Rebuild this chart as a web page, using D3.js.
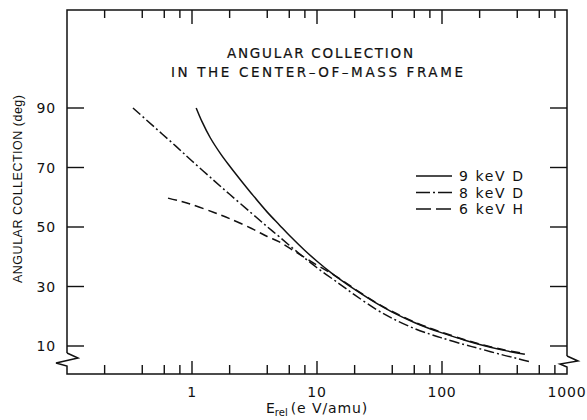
<!DOCTYPE html>
<html><head><meta charset="utf-8">
<script src="https://cdn.jsdelivr.net/npm/d3@7"></script>
<style>html,body{margin:0;padding:0;background:#fff;}svg{display:block;}</style>
</head><body><div id="chart"></div>
<script>
// ---- data ----
const energy9D = [1.08,1.2,1.4,1.7,2,2.5,3,4,5,6,8,10,13,16,20,30,40,60,80,100,150,200,300,460];
const angle9D  = [90,85.5,80,74.5,70.5,65.3,61.2,55.0,50.7,47.2,42.1,38.5,34.6,31.8,29.0,24.3,21.4,17.9,15.8,14.4,12.0,10.5,8.7,7.2];
const energy8D = [0.337,0.5,0.75,1,1.5,2,3,4,5,7,10,15,20,30,40,60,80,100,150,200,300,400,515];
const angle8D  = [90,83.6,77.0,72.2,65.6,61.0,54.6,50.1,46.7,41.5,36.3,31.0,27.2,22.2,19.3,15.9,14.0,12.7,10.5,9.1,7.1,5.8,4.6];
const energy6H = [0.643,0.8,1,1.5,2,3,4,5,7,10,13,16,20,30,40,60,80,100,150,200,300,460];
const angle6H  = [59.7,58.7,57.5,54.9,52.8,49.5,46.8,45.0,41.2,37.2,34.4,32.0,29.2,24.5,21.6,18.1,16.0,14.6,12.2,10.7,8.9,7.4];
const seriesNames = ["9 keV D","8 keV D","6 keV H"];
const xMajorTicks = [1,10,100];
const xMinorTicks = [0.2,0.4,0.6,0.8,2,4,6,8,20,40,60,80,200,400,600,800];
const xTickLabels = ["1","10","100","1000"];
const xLabelValues = [1,10,100,1000];
const yTicks = [10,30,50,70,90];
const titleLines = ["ANGULAR COLLECTION","IN THE CENTER\u2013OF\u2013MASS FRAME"];

const W = 587, H = 420;
const L = 67, R = 567, T = 10, B = 374;
const svg = d3.select("#chart").append("svg").attr("width",W).attr("height",H);
const x = d3.scaleLog().domain([0.1,1000]).range([L,R]);
const y = d3.scaleLinear().domain([10,90]).range([346,108]);
const ink = "#111";

// frame with axis breaks
const g = svg.append("g").attr("fill","none").attr("stroke",ink).attr("stroke-width",1.5);
g.append("path").attr("d",`M${L},353 L${L},${T} L${R},${T} L${R},356`);
g.append("path").attr("d",`M${L},353 L78,358 L56,363 L${L},366 L${L},${B} L${R},${B} L${R},367 L560,364 L578,361 L${R},356`);

// x ticks bottom and top
const tk = svg.append("g").attr("stroke",ink).attr("stroke-width",1.4);
tk.selectAll(".bmin").data(xMinorTicks).join("line")
  .attr("x1",d=>x(d)).attr("x2",d=>x(d)).attr("y1",B).attr("y2",B-9);
tk.selectAll(".bmaj").data(xMajorTicks).join("line")
  .attr("x1",d=>x(d)).attr("x2",d=>x(d)).attr("y1",B).attr("y2",B-13);
tk.selectAll(".tmin").data(xMinorTicks).join("line")
  .attr("x1",d=>x(d)).attr("x2",d=>x(d)).attr("y1",T).attr("y2",T+8);
tk.selectAll(".tmaj").data(xMajorTicks).join("line")
  .attr("x1",d=>x(d)).attr("x2",d=>x(d)).attr("y1",T).attr("y2",T+14);
// y ticks left and right
tk.selectAll(".yl").data(yTicks).join("line")
  .attr("x1",L).attr("x2",L+17).attr("y1",d=>y(d)).attr("y2",d=>y(d));
tk.selectAll(".yr").data(yTicks).join("line")
  .attr("x1",R).attr("x2",R-17).attr("y1",d=>y(d)).attr("y2",d=>y(d));

const numFont = "'DejaVu Sans', sans-serif";
// x tick labels
svg.append("g").selectAll("text").data(xLabelValues).join("text")
  .attr("x",d=>x(d)).attr("y",397).attr("text-anchor","middle")
  .attr("font-family",numFont).attr("font-size",14).attr("letter-spacing","0.8px").attr("fill",ink)
  .text((d,i)=>xTickLabels[i]);
// y tick labels
svg.append("g").selectAll("text").data(yTicks).join("text")
  .attr("x",56).attr("y",d=>y(d)+5).attr("text-anchor","end")
  .attr("font-family",numFont).attr("font-size",14).attr("letter-spacing","0.8px").attr("fill",ink)
  .text(d=>d);

// title
const tl = [[320,58,186],[317,77,292]];
titleLines.forEach((t,i)=>{
  svg.append("text").attr("x",tl[i][0]).attr("y",tl[i][1]).attr("text-anchor","middle")
    .attr("font-family",numFont).attr("font-size",13.5).attr("fill",ink)
    .attr("stroke",ink).attr("stroke-width",0.2)
    .attr("textLength",tl[i][2]).attr("lengthAdjust","spacing").text(t);
});

// axis labels
svg.append("text").attr("transform","translate(22,189) rotate(-90)").attr("text-anchor","middle")
  .attr("font-family","'Liberation Sans', Arial, sans-serif").attr("font-size",12.5).attr("fill",ink)
  .attr("textLength",188).attr("lengthAdjust","spacing").text("ANGULAR COLLECTION (deg)");
const xl = svg.append("text").attr("x",266).attr("y",413)
  .attr("font-family",numFont).attr("font-size",14).attr("fill",ink);
xl.append("tspan").text("E");
xl.append("tspan").attr("font-size",10).attr("dy",3).text("rel");
xl.append("tspan").attr("dy",-3).attr("dx",3).attr("letter-spacing","0.9px").text("(e V/amu)");

// curves
const line = d3.line().x(d=>x(d[0])).y(d=>y(d[1])).curve(d3.curveCatmullRom.alpha(0.5));
const series = [
  {e:energy9D,a:angle9D,dash:null},
  {e:energy8D,a:angle8D,dash:"10,3,2,3"},
  {e:energy6H,a:angle6H,dash:"9,5"}
];
const cg = svg.append("g").attr("fill","none").attr("stroke",ink).attr("stroke-width",1.5);
series.forEach(s=>{
  cg.append("path").datum(s.e.map((v,i)=>[v,s.a[i]])).attr("d",line)
    .attr("stroke-dasharray",s.dash);
});

// legend
const legY = [176,192.5,209];
const legDash = [null,"14,3,2,3,14","15,5,15"];
seriesNames.forEach((n,i)=>{
  svg.append("line").attr("x1",416).attr("x2",452).attr("y1",legY[i]).attr("y2",legY[i])
    .attr("stroke",ink).attr("stroke-width",1.6).attr("stroke-dasharray",legDash[i]);
  svg.append("text").attr("x",459).attr("y",legY[i]+5).attr("font-family",numFont)
    .attr("font-size",14).attr("fill",ink).attr("textLength",64).attr("lengthAdjust","spacing").text(n);
});
</script></body></html>
